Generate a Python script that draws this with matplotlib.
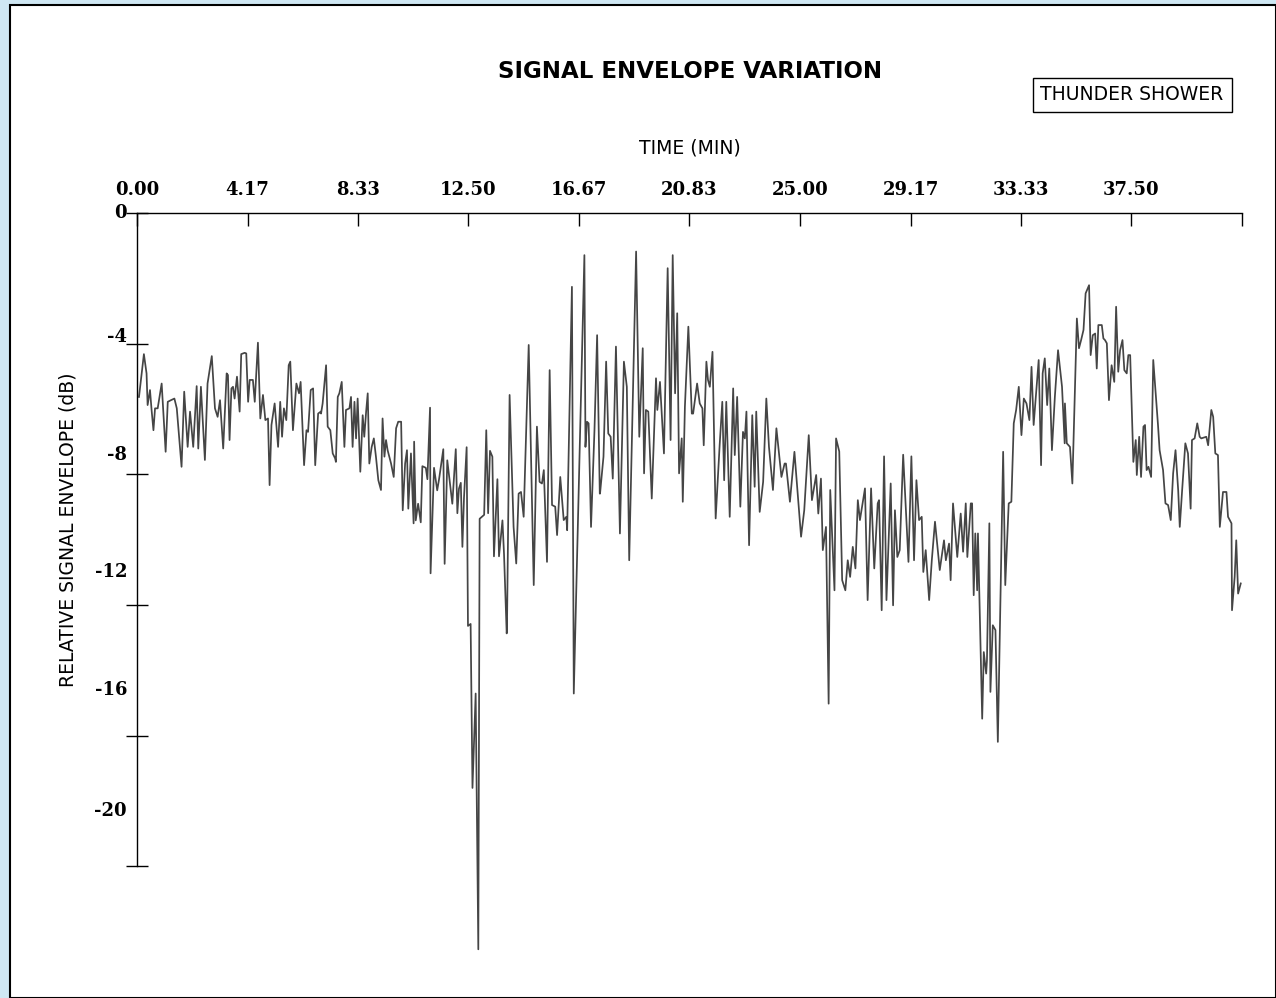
import matplotlib
matplotlib.use("Agg")
import matplotlib.pyplot as plt
import matplotlib.transforms as mtransforms
from matplotlib.patches import Rectangle

# (time in minutes, relative envelope in dB)
seg_00_04 = [(0.075, -5.63), (0.26, -4.32), (0.36, -4.91), (0.40, -5.88), (0.49, -5.42), (0.55, -6.03),
             (0.62, -6.65), (0.68, -5.98), (0.78, -5.98), (0.93, -5.22), (1.08, -7.31), (1.16, -5.78),
             (1.28, -5.73), (1.41, -5.68), (1.50, -5.98), (1.68, -7.77), (1.78, -5.47), (1.91, -7.16),
             (2.00, -6.08), (2.12, -7.16), (2.25, -5.30), (2.31, -7.21), (2.41, -5.32), (2.56, -7.56),
             (2.66, -5.22), (2.82, -4.38), (2.94, -5.98), (3.04, -6.24), (3.13, -5.73), (3.25, -7.21),
             (3.38, -4.91)]
seg_04_07 = [(3.43, -4.96), (3.49, -6.95), (3.56, -5.37), (3.62, -5.32), (3.68, -5.68), (3.77, -5.01),
             (3.87, -6.08), (3.93, -4.32), (4.06, -4.28), (4.12, -4.30), (4.19, -5.78), (4.25, -5.11),
             (4.37, -5.11), (4.44, -5.78), (4.56, -3.97), (4.65, -6.29), (4.75, -5.57), (4.84, -6.34),
             (4.94, -6.29), (5.00, -8.33), (5.07, -6.49), (5.19, -5.83), (5.32, -7.16), (5.40, -5.78),
             (5.47, -6.85), (5.54, -5.98), (5.63, -6.34), (5.72, -4.66), (5.78, -4.55), (5.88, -6.65),
             (6.01, -5.22), (6.11, -5.52), (6.17, -5.17), (6.30, -7.72), (6.39, -6.65), (6.45, -6.70),
             (6.55, -5.42), (6.64, -5.37), (6.72, -7.72), (6.83, -6.14), (6.93, -6.08)]
seg_07_10 = [(6.94, -6.14), (7.00, -5.83), (7.13, -4.66), (7.19, -6.54), (7.29, -6.65), (7.38, -7.36),
             (7.47, -7.51), (7.50, -7.62), (7.57, -5.63), (7.63, -5.52), (7.72, -5.17), (7.82, -7.16),
             (7.88, -6.03), (8.01, -5.98), (8.07, -5.63), (8.13, -7.16), (8.20, -5.78), (8.26, -6.90),
             (8.32, -5.68), (8.42, -7.92), (8.51, -6.19), (8.57, -6.85), (8.64, -6.08), (8.70, -5.52),
             (8.76, -7.67), (8.85, -7.16), (8.93, -6.90), (9.01, -7.46), (9.10, -8.18), (9.20, -8.48),
             (9.26, -6.29), (9.33, -7.46), (9.39, -6.95), (9.45, -7.26), (9.58, -7.67), (9.68, -8.08),
             (9.77, -6.59), (9.85, -6.39), (9.96, -6.39), (10.02, -9.10), (10.11, -7.67), (10.18, -7.26),
             (10.23, -9.05), (10.33, -7.36), (10.43, -9.50)]
seg_10_14 = [(10.45, -7.00), (10.51, -9.41), (10.60, -8.90), (10.70, -9.47), (10.76, -7.75), (10.89, -7.80),
             (10.95, -8.15), (11.05, -5.96), (11.07, -11.03), (11.20, -7.80), (11.32, -8.49), (11.39, -8.15),
             (11.55, -7.23), (11.60, -10.74), (11.70, -7.57), (11.83, -8.49), (11.89, -8.90), (12.02, -7.23),
             (12.08, -9.19), (12.14, -8.44), (12.21, -8.26), (12.27, -10.22), (12.33, -8.72), (12.43, -7.17),
             (12.48, -12.64), (12.58, -12.58), (12.65, -17.60), (12.77, -14.71), (12.87, -22.54), (12.92, -9.36),
             (13.09, -9.24), (13.17, -6.65), (13.24, -9.19), (13.31, -7.28), (13.40, -7.46), (13.46, -10.51),
             (13.59, -8.15), (13.65, -10.51), (13.78, -9.41), (13.84, -10.45), (13.94, -12.87)]
seg_14_17 = [(13.95, -12.77), (14.05, -5.57), (14.20, -9.61), (14.30, -10.73), (14.39, -8.59), (14.48, -8.54),
             (14.58, -9.30), (14.77, -4.04), (14.96, -11.39), (15.08, -6.54), (15.18, -8.23), (15.27, -8.28),
             (15.34, -7.87), (15.46, -10.68), (15.56, -4.81), (15.65, -8.94), (15.77, -8.99), (15.84, -9.86),
             (15.96, -8.08), (16.09, -9.40), (16.19, -9.30), (16.22, -9.71), (16.40, -2.26), (16.47, -14.71),
             (16.87, -1.29), (16.91, -7.16), (16.97, -6.39), (17.03, -6.44), (17.12, -9.61), (17.25, -6.65),
             (17.35, -3.74), (17.45, -8.59)]
seg_17_21 = [(17.46, -8.59), (17.59, -7.46), (17.69, -4.55), (17.77, -6.75), (17.86, -6.85), (17.94, -8.13),
             (18.06, -4.09), (18.21, -9.81), (18.36, -4.55), (18.47, -5.32), (18.56, -10.63), (18.82, -1.18),
             (18.94, -6.85), (19.07, -4.14), (19.12, -7.97), (19.19, -6.03), (19.28, -6.08), (19.41, -8.74),
             (19.57, -5.06), (19.62, -6.03), (19.72, -5.17), (19.87, -7.36), (20.01, -1.69), (20.12, -6.95),
             (20.20, -1.29), (20.29, -5.52), (20.37, -3.07), (20.44, -7.97), (20.54, -6.90), (20.58, -8.84),
             (20.66, -5.93), (20.79, -3.48), (20.92, -6.14)]
seg_21_24 = [(20.97, -6.14), (21.12, -5.22), (21.22, -5.83), (21.32, -5.98), (21.37, -7.11), (21.47, -4.55),
             (21.53, -5.11), (21.60, -5.32), (21.70, -4.25), (21.82, -9.35), (21.97, -7.11), (22.07, -5.78),
             (22.14, -8.18), (22.22, -5.78), (22.35, -9.30), (22.48, -5.37), (22.54, -7.41), (22.63, -5.63),
             (22.75, -8.99), (22.85, -6.70), (22.92, -6.90), (22.98, -6.08), (23.08, -10.17), (23.20, -6.19),
             (23.29, -8.38), (23.35, -6.08), (23.48, -9.15), (23.61, -8.23), (23.73, -5.68), (23.83, -7.16),
             (23.98, -8.48), (24.11, -6.59), (24.30, -8.08), (24.42, -7.67)]
seg_24_28 = [(24.47, -7.67), (24.62, -8.84), (24.79, -7.31), (25.04, -9.91), (25.16, -9.10), (25.33, -6.80),
             (25.45, -8.79), (25.61, -8.02), (25.69, -9.20), (25.79, -8.13), (25.86, -10.32), (25.98, -9.61),
             (26.08, -15.02), (26.14, -8.48), (26.30, -11.55), (26.36, -6.90), (26.48, -7.30), (26.59, -11.24),
             (26.71, -11.55), (26.80, -10.63), (26.89, -11.14), (26.99, -10.22), (27.09, -10.88), (27.18, -8.79),
             (27.26, -9.40), (27.45, -8.43), (27.55, -11.85), (27.68, -8.43), (27.80, -10.88), (27.93, -8.89)]
seg_28_31 = [(27.98, -8.79), (28.08, -12.16), (28.17, -7.45), (28.26, -11.85), (28.42, -8.28), (28.51, -12.01),
             (28.58, -9.10), (28.67, -10.53), (28.76, -10.32), (28.89, -7.40), (29.09, -10.68), (29.20, -7.45),
             (29.30, -10.63), (29.39, -8.18), (29.49, -9.40), (29.59, -9.30), (29.65, -10.99), (29.74, -10.32),
             (29.87, -11.85), (29.97, -10.63), (30.09, -9.45), (30.27, -10.93), (30.43, -10.02), (30.50, -10.63),
             (30.62, -10.12), (30.68, -11.24), (30.77, -8.89), (30.93, -10.53), (31.06, -9.20), (31.15, -10.37),
             (31.25, -8.89), (31.31, -10.53), (31.44, -8.89)]
seg_31_35 = [(31.49, -8.89), (31.55, -11.70), (31.61, -9.81), (31.68, -11.55), (31.71, -9.81), (31.87, -15.48),
             (31.93, -13.44), (32.02, -14.10), (32.05, -13.69), (32.14, -9.50), (32.18, -14.66), (32.27, -12.62),
             (32.37, -12.77), (32.46, -16.19), (32.66, -7.31), (32.74, -11.39), (32.87, -8.89), (32.97, -8.84),
             (33.06, -6.44), (33.15, -6.03), (33.25, -5.32), (33.35, -6.80), (33.44, -5.68), (33.54, -5.83),
             (33.65, -6.34), (33.73, -4.71), (33.81, -6.49), (33.94, -5.11), (34.00, -4.50), (34.09, -7.72),
             (34.15, -4.91), (34.23, -4.45), (34.32, -5.88), (34.40, -4.76), (34.50, -7.26), (34.61, -5.63),
             (34.73, -4.20), (34.88, -5.32), (34.98, -7.05)]
seg_35_38 = [(34.99, -5.83), (35.06, -7.05), (35.18, -7.16), (35.27, -8.28), (35.44, -3.23), (35.52, -4.14),
             (35.60, -3.89), (35.69, -3.58), (35.77, -2.46), (35.90, -2.21), (35.96, -4.35), (36.04, -3.74),
             (36.13, -3.69), (36.19, -4.76), (36.25, -3.43), (36.38, -3.43), (36.44, -3.84), (36.50, -3.89),
             (36.57, -3.99), (36.65, -5.73), (36.75, -4.66), (36.85, -5.17), (36.92, -2.87), (37.00, -4.86),
             (37.07, -4.20), (37.16, -3.89), (37.23, -4.81), (37.32, -4.91), (37.38, -4.35), (37.45, -4.35),
             (37.57, -7.62), (37.66, -6.95), (37.70, -8.02), (37.79, -6.85), (37.86, -8.08), (37.95, -6.54),
             (38.01, -6.49), (38.07, -7.87), (38.14, -7.77), (38.24, -8.08), (38.32, -4.50)]
seg_38_42 = [(38.50, -6.50), (38.56, -7.26), (38.69, -7.87), (38.78, -8.89), (38.88, -8.94), (38.98, -9.40),
             (39.07, -7.97), (39.16, -7.26), (39.26, -8.48), (39.32, -9.61), (39.41, -8.48), (39.53, -7.05),
             (39.63, -7.36), (39.73, -9.05), (39.78, -6.95), (39.88, -6.90), (39.98, -6.44), (40.07, -6.85),
             (40.13, -6.90), (40.32, -6.85), (40.39, -7.11), (40.51, -6.03), (40.58, -6.24), (40.66, -7.36),
             (40.76, -7.41), (40.83, -9.61), (40.95, -8.54), (41.08, -8.54), (41.14, -9.30), (41.27, -9.50),
             (41.29, -12.16), (41.39, -11.14), (41.45, -10.02), (41.52, -11.65), (41.62, -11.34)]

x_ticks = [0.0, 4.1667, 8.3333, 12.5, 16.6667, 20.8333, 25.0, 29.1667, 33.3333, 37.5, 41.6667]
x_labels = ["0.00", "4.17", "8.33", "12.50", "16.67", "20.83", "25.00", "29.17", "33.33", "37.50", ""]
y_ticks = [0, -4, -8, -12, -16, -20]
y_labels = ["0", "-4", "-8", "-12", "-16", "-20"]
# the printed y labels sit a little above their tick marks in the original
y_label_pos = [0, -3.8, -7.41, -11.0, -14.6, -18.3]

segments = [seg_00_04, seg_04_07, seg_07_10, seg_10_14, seg_14_17, seg_17_21,
            seg_21_24, seg_24_28, seg_28_31, seg_31_35, seg_35_38, seg_38_42]
time_min = [p[0] for s in segments for p in s]
env_db = [p[1] for s in segments for p in s]

W, H = 1276, 998
fig = plt.figure(figsize=(W / 100, H / 100), dpi=100)
fig.patch.set_facecolor("#cfe7f3")
fig.patches.append(Rectangle((10 / W, 0), 1 - 10 / W, 1 - 5 / H, transform=fig.transFigure,
                             facecolor="white", edgecolor="black", linewidth=1.5, zorder=-10))

ax = fig.add_axes([137 / W, 1 - 997 / H, (1242 - 137) / W, (997 - 213) / H])
ax.set_zorder(5)
ax.patch.set_alpha(0)
ax.set_xlim(0, 41.6667)
ax.set_ylim(-24, 0)

ax.plot(time_min, env_db, color="#454545", linewidth=1.25)

ax.xaxis.tick_top()
ax.set_xticks(x_ticks)
ax.set_xticklabels(x_labels, fontfamily="DejaVu Serif", fontweight="bold", fontsize=13)
ax.tick_params(axis="x", direction="in", length=9, width=1, pad=10)

ax.set_yticks(y_ticks)
ax.set_yticklabels([""] * len(y_ticks))
ax.tick_params(axis="y", direction="inout", length=16, width=1)
trans = mtransforms.blended_transform_factory(ax.transAxes, ax.transData)
for lab, yp in zip(y_labels, y_label_pos):
	ax.text(-0.009, yp, lab, transform=trans, ha="right", va="center",
	        fontfamily="DejaVu Serif", fontweight="bold", fontsize=13)

ax.spines["right"].set_visible(False)
ax.spines["bottom"].set_visible(False)
ax.spines["left"].set_bounds(-20, 0)
for s in ("left", "top"):
	ax.spines[s].set_linewidth(1)

fig.text(690 / W, 1 - 71 / H, "SIGNAL ENVELOPE VARIATION", ha="center", va="center",
         fontsize=16.5, fontweight="bold")
fig.text(690 / W, 1 - 148 / H, "TIME (MIN)", ha="center", va="center", fontsize=13.5)
fig.text(68 / W, 1 - 530 / H, "RELATIVE SIGNAL ENVELOPE (dB)", ha="center", va="center",
         rotation=90, fontsize=13.5)
fig.text(1132 / W, 1 - 95 / H, "THUNDER SHOWER", ha="center", va="center", fontsize=13.5,
         bbox=dict(boxstyle="square,pad=0.42", facecolor="white", edgecolor="black", linewidth=1))

fig.savefig("out.png", dpi=100, facecolor=fig.get_facecolor())
